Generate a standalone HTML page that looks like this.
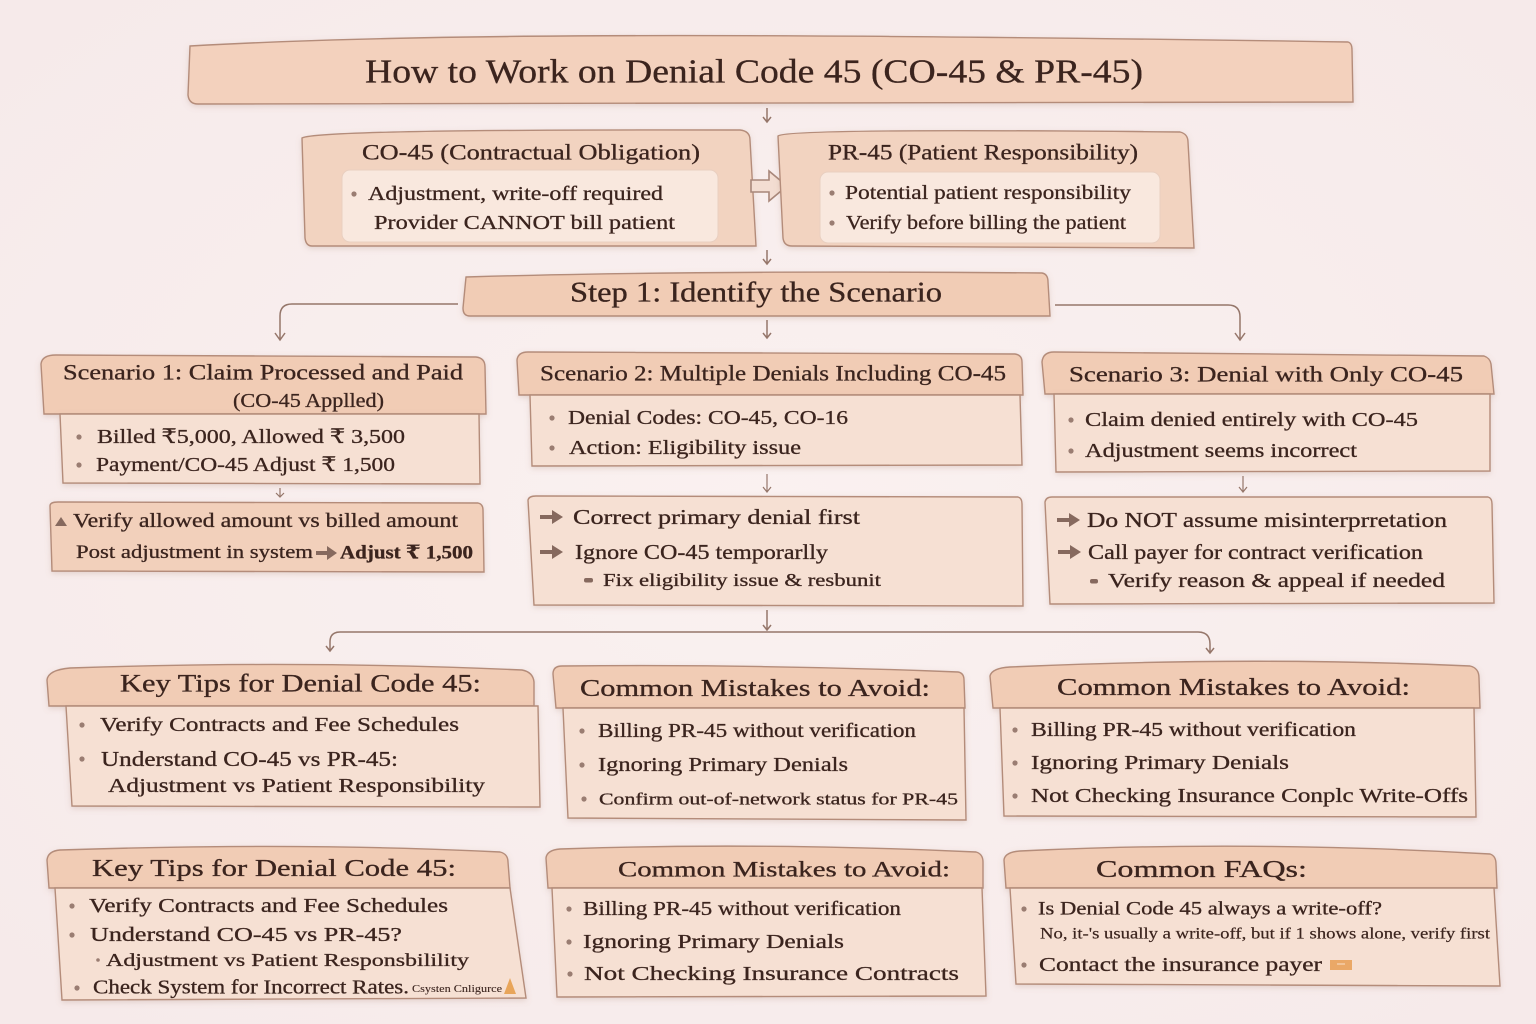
<!DOCTYPE html>
<html>
<head>
<meta charset="utf-8">
<style>
  html,body{margin:0;padding:0;background:#f8eeee;}
  svg{display:block;}
  .t{font-family:"Liberation Serif","DejaVu Serif",serif;fill:#3b241e;stroke:#3b241e;stroke-width:0.3;dominant-baseline:central;}
  .hd{fill:#f1ccb5;stroke:#b48c7a;stroke-width:1.4;}
  .bd{fill:#f6e0d3;stroke:#b48c7a;stroke-width:1.4;}
  .pn{fill:#f9e8de;stroke:#e9cfc0;stroke-width:1;}
  .ln{fill:none;stroke:#95766a;stroke-width:1.5;}
  .bu{fill:#9a7d72;}
  .ar{fill:#86695e;}
</style>
</head>
<body>
<svg width="1536" height="1024" viewBox="0 0 1536 1024" xmlns="http://www.w3.org/2000/svg">
<defs>
  <filter id="sh" x="-5%" y="-10%" width="110%" height="130%">
    <feDropShadow dx="0" dy="2" stdDeviation="3" flood-color="#a8806e" flood-opacity="0.25"/>
  </filter>
  <radialGradient id="bg" cx="50%" cy="50%" r="70%">
    <stop offset="0" stop-color="#faf1f0"/>
    <stop offset="1" stop-color="#f6eaea"/>
  </radialGradient>
</defs>
<rect x="0" y="0" width="1536" height="1024" fill="url(#bg)"/>

<!-- Title -->
<path class="hd" filter="url(#sh)" d="M190,46 C400,34 700,32 1348,42 Q1352,43 1352,50 L1353,102 L198,104 Q189,104 188,95 Z" style="fill:#f3d1bd"/>
<text class="t" x="365" y="72" font-size="34" textLength="778" lengthAdjust="spacingAndGlyphs">How to Work on Denial Code 45 (CO-45 &amp; PR-45)</text>

<!-- arrow 1 -->
<path class="ln" d="M767,108 L767,122 M763,117 L767,122 L771,117"/>

<!-- CO-45 box -->
<path class="hd" filter="url(#sh)" d="M302,138 Q320,129 740,130 Q750,131 750,140 L756,246 L312,246 Q306,246 305,238 Z" style="fill:#f2d3c0"/>
<text class="t" x="362" y="152" font-size="22" textLength="338" lengthAdjust="spacingAndGlyphs">CO-45 (Contractual Obligation)</text>
<rect class="pn" x="342" y="170" width="376" height="72" rx="8"/>
<circle class="bu" cx="354" cy="194" r="2.6"/>
<text class="t" x="368" y="194" font-size="20.5" textLength="295" lengthAdjust="spacingAndGlyphs">Adjustment, write-off required</text>
<text class="t" x="374" y="223" font-size="20.5" textLength="301" lengthAdjust="spacingAndGlyphs">Provider CANNOT bill patient</text>

<!-- hollow arrow -->
<polygon points="751,180 769,180 769,171 787,186 769,201 769,192 751,192" fill="#f3ddd2" stroke="#a8877a" stroke-width="1.6"/>

<!-- PR-45 box -->
<path class="hd" filter="url(#sh)" d="M778,136 Q786,128 1180,132 Q1188,134 1188,142 L1194,248 L792,246 Q784,246 783,238 Z" style="fill:#f2d3c0"/>
<text class="t" x="828" y="152" font-size="22" textLength="310" lengthAdjust="spacingAndGlyphs">PR-45 (Patient Responsibility)</text>
<rect class="pn" x="820" y="172" width="340" height="71" rx="8"/>
<circle class="bu" cx="832" cy="193" r="2.6"/>
<text class="t" x="845" y="193" font-size="20.5" textLength="286" lengthAdjust="spacingAndGlyphs">Potential patient responsibility</text>
<circle class="bu" cx="832" cy="223" r="2.6"/>
<text class="t" x="846" y="223" font-size="20.5" textLength="280" lengthAdjust="spacingAndGlyphs">Verify before billing the patient</text>

<!-- arrow 2 -->
<path class="ln" d="M767,250 L767,264 M763,259 L767,264 L771,259"/>

<!-- Step 1 -->
<path class="hd" filter="url(#sh)" d="M466,277 Q700,270 1042,273 Q1048,274 1048,282 L1050,316 L470,316 Q463,316 463,308 Z"/>
<text class="t" x="570" y="293" font-size="28" textLength="372" lengthAdjust="spacingAndGlyphs">Step 1: Identify the Scenario</text>

<!-- connectors from step1 -->
<path class="ln" d="M458,304 L292,304 Q280,304 280,316 L280,339 M275,333 L280,340 L285,333"/>
<path class="ln" d="M767,320 L767,338 M763,333 L767,338 L771,333"/>
<path class="ln" d="M1055,305 L1228,305 Q1240,305 1240,317 L1240,339 M1235,333 L1240,340 L1245,333"/>

<!-- Scenario 1 -->
<path class="hd" filter="url(#sh)" d="M41,364 Q42,355 56,355 L476,357 Q485,358 485,367 L486,414 L44,414 Z"/>
<text class="t" x="63" y="372" font-size="22" textLength="400" lengthAdjust="spacingAndGlyphs">Scenario 1: Claim Processed and Paid</text>
<text class="t" x="233" y="401" font-size="20" textLength="151" lengthAdjust="spacingAndGlyphs">(CO-45 Applled)</text>
<path class="bd" filter="url(#sh)" d="M60,414 L479,414 L480,484 L63,483 Z"/>
<circle class="bu" cx="79" cy="437" r="2.6"/>
<text class="t" x="97" y="437" font-size="20" textLength="308" lengthAdjust="spacingAndGlyphs">Billed ₹5,000, Allowed ₹ 3,500</text>
<circle class="bu" cx="79" cy="465" r="2.6"/>
<text class="t" x="96" y="465" font-size="20" textLength="299" lengthAdjust="spacingAndGlyphs">Payment/CO-45 Adjust ₹ 1,500</text>
<path class="ln" d="M280,488 L280,497 M276,493 L280,497 L284,493" style="stroke-width:1.2"/>
<path class="hd" filter="url(#sh)" d="M50,506 Q50,502 58,502 L478,503 Q483,504 483,510 L484,572 L52,571 Z" style="fill:#f2d0bb"/>
<polygon points="55,526 61,517 67,526" class="ar"/>
<text class="t" x="73" y="521" font-size="20" textLength="385" lengthAdjust="spacingAndGlyphs">Verify allowed amount vs billed amount</text>
<text class="t" x="76" y="553" font-size="18.5" textLength="237" lengthAdjust="spacingAndGlyphs">Post adjustment in system</text>
<path class="ar" d="M316,551 L327,551 L327,546 L337,553 L327,560 L327,555 L316,555 Z"/>
<text class="t" x="340" y="553" font-size="19" font-weight="bold" textLength="133" lengthAdjust="spacingAndGlyphs">Adjust ₹ 1,500</text>

<!-- Scenario 2 -->
<path class="hd" filter="url(#sh)" d="M517,360 Q518,352 528,352 L1015,354 Q1022,355 1022,362 L1023,395 L519,395 Z"/>
<text class="t" x="540" y="373" font-size="22" textLength="466" lengthAdjust="spacingAndGlyphs">Scenario 2: Multiple Denials Including CO-45</text>
<path class="bd" filter="url(#sh)" d="M530,395 L1020,395 L1022,465 L532,466 Z"/>
<circle class="bu" cx="552" cy="418" r="2.6"/>
<text class="t" x="568" y="418" font-size="20" textLength="280" lengthAdjust="spacingAndGlyphs">Denial Codes: CO-45, CO-16</text>
<circle class="bu" cx="552" cy="448" r="2.6"/>
<text class="t" x="569" y="448" font-size="20" textLength="232" lengthAdjust="spacingAndGlyphs">Action: Eligibility issue</text>
<path class="ln" d="M767,474 L767,492 M763,487 L767,492 L771,487" style="stroke-width:1.2"/>
<path class="bd" filter="url(#sh)" d="M528,500 Q529,496 536,496 L1018,497 Q1022,498 1022,504 L1023,606 L534,605 Z"/>
<path class="ar" d="M540,515 L552,515 L552,510 L563,517 L552,524 L552,519 L540,519 Z"/>
<text class="t" x="573" y="517" font-size="21" textLength="287" lengthAdjust="spacingAndGlyphs">Correct primary denial first</text>
<path class="ar" d="M540,550 L552,550 L552,545 L563,552 L552,559 L552,554 L540,554 Z"/>
<text class="t" x="575" y="552" font-size="21" textLength="253" lengthAdjust="spacingAndGlyphs">Ignore CO-45 temporarlly</text>
<rect class="ar" x="584" y="578" width="9" height="4.5" rx="2"/>
<text class="t" x="603" y="580" font-size="18" textLength="278" lengthAdjust="spacingAndGlyphs">Fix eligibility issue &amp; resbunit</text>

<!-- Scenario 3 -->
<path class="hd" filter="url(#sh)" d="M1042,362 Q1043,352 1054,352 L1484,356 Q1490,358 1491,364 L1494,394 L1045,394 Z"/>
<text class="t" x="1069" y="374" font-size="22" textLength="394" lengthAdjust="spacingAndGlyphs">Scenario 3: Denial with Only CO-45</text>
<path class="bd" filter="url(#sh)" d="M1054,394 L1490,394 L1490,471 L1056,472 Z"/>
<circle class="bu" cx="1071" cy="420" r="2.6"/>
<text class="t" x="1085" y="420" font-size="20.5" textLength="333" lengthAdjust="spacingAndGlyphs">Claim denied entirely with CO-45</text>
<circle class="bu" cx="1071" cy="451" r="2.6"/>
<text class="t" x="1085" y="451" font-size="20.5" textLength="272" lengthAdjust="spacingAndGlyphs">Adjustment seems incorrect</text>
<path class="ln" d="M1243,476 L1243,492 M1239,487 L1243,492 L1247,487" style="stroke-width:1.2"/>
<path class="bd" filter="url(#sh)" d="M1045,502 Q1046,497 1052,497 L1488,497 Q1492,498 1492,504 L1494,603 L1050,604 Z"/>
<path class="ar" d="M1057,518 L1069,518 L1069,513 L1080,520 L1069,527 L1069,522 L1057,522 Z"/>
<text class="t" x="1087" y="520" font-size="21" textLength="360" lengthAdjust="spacingAndGlyphs">Do NOT assume misinterprretation</text>
<path class="ar" d="M1058,550 L1070,550 L1070,545 L1081,552 L1070,559 L1070,554 L1058,554 Z"/>
<text class="t" x="1088" y="552" font-size="21" textLength="335" lengthAdjust="spacingAndGlyphs">Call payer for contract verification</text>
<rect class="ar" x="1090" y="579" width="8" height="4.5" rx="2"/>
<text class="t" x="1108" y="581" font-size="20.5" textLength="337" lengthAdjust="spacingAndGlyphs">Verify reason &amp; appeal if needed</text>

<!-- bottom connector -->
<path class="ln" d="M767,610 L767,630 M763,625 L767,630 L771,625"/>
<path class="ln" d="M1198,632 L340,632 Q330,632 330,642 L330,651 M326,646 L330,651 L334,646"/>
<path class="ln" d="M1198,632 Q1210,632 1210,644 L1210,653 M1206,648 L1210,653 L1214,648"/>

<!-- Key Tips 1 -->
<path class="hd" filter="url(#sh)" d="M47,680 Q48,670 70,668 Q300,660 522,670 Q533,672 534,682 L534,706 L49,706 Z"/>
<text class="t" x="120" y="684" font-size="25" textLength="361" lengthAdjust="spacingAndGlyphs">Key Tips for Denial Code 45:</text>
<path class="bd" filter="url(#sh)" d="M66,706 L538,706 L540,807 L72,806 Z"/>
<circle class="bu" cx="82" cy="725" r="2.6"/>
<text class="t" x="100" y="725" font-size="20" textLength="359" lengthAdjust="spacingAndGlyphs">Verify Contracts and Fee Schedules</text>
<circle class="bu" cx="82" cy="759" r="2.6"/>
<text class="t" x="101" y="759" font-size="21" textLength="297" lengthAdjust="spacingAndGlyphs">Understand CO-45 vs PR-45:</text>
<text class="t" x="108" y="786" font-size="20" textLength="377" lengthAdjust="spacingAndGlyphs">Adjustment vs Patient Responsibility</text>

<!-- Common Mistakes 1 -->
<path class="hd" filter="url(#sh)" d="M553,674 Q553,666 562,666 Q760,664 958,672 Q964,673 964,680 L965,708 L556,708 Z"/>
<text class="t" x="580" y="689" font-size="24" textLength="350" lengthAdjust="spacingAndGlyphs">Common Mistakes to Avoid:</text>
<path class="bd" filter="url(#sh)" d="M563,708 L964,708 L966,820 L568,818 Z"/>
<circle class="bu" cx="582" cy="731" r="2.6"/>
<text class="t" x="598" y="731" font-size="20" textLength="318" lengthAdjust="spacingAndGlyphs">Billing PR-45 without verification</text>
<circle class="bu" cx="582" cy="765" r="2.6"/>
<text class="t" x="598" y="765" font-size="20" textLength="250" lengthAdjust="spacingAndGlyphs">Ignoring Primary Denials</text>
<circle class="bu" cx="584" cy="799" r="2.6"/>
<text class="t" x="599" y="799" font-size="17" textLength="359" lengthAdjust="spacingAndGlyphs">Confirm out-of-network status for PR-45</text>

<!-- Common Mistakes 2 -->
<path class="hd" filter="url(#sh)" d="M990,676 Q992,668 1010,667 Q1250,656 1470,666 Q1479,668 1479,678 L1480,708 L993,708 Z"/>
<text class="t" x="1057" y="688" font-size="24" textLength="353" lengthAdjust="spacingAndGlyphs">Common Mistakes to Avoid:</text>
<path class="bd" filter="url(#sh)" d="M1000,708 L1474,708 L1476,817 L1004,816 Z"/>
<circle class="bu" cx="1015" cy="730" r="2.6"/>
<text class="t" x="1031" y="730" font-size="20" textLength="325" lengthAdjust="spacingAndGlyphs">Billing PR-45 without verification</text>
<circle class="bu" cx="1015" cy="763" r="2.6"/>
<text class="t" x="1031" y="763" font-size="20" textLength="258" lengthAdjust="spacingAndGlyphs">Ignoring Primary Denials</text>
<circle class="bu" cx="1015" cy="796" r="2.6"/>
<text class="t" x="1031" y="796" font-size="20" textLength="437" lengthAdjust="spacingAndGlyphs">Not Checking Insurance Conplc  Write-Offs</text>

<!-- Key Tips 2 -->
<path class="hd" filter="url(#sh)" d="M47,860 Q48,851 60,850 Q300,842 500,852 Q508,854 508,862 L510,888 L49,888 Z"/>
<text class="t" x="92" y="869" font-size="24" textLength="364" lengthAdjust="spacingAndGlyphs">Key Tips for Denial Code 45:</text>
<path class="bd" filter="url(#sh)" d="M55,888 L510,888 L526,998 L62,1000 Z"/>
<circle class="bu" cx="72" cy="906" r="2.6"/>
<text class="t" x="89" y="906" font-size="20" textLength="359" lengthAdjust="spacingAndGlyphs">Verify Contracts and Fee Schedules</text>
<circle class="bu" cx="72" cy="935" r="2.6"/>
<text class="t" x="90" y="935" font-size="20.5" textLength="312" lengthAdjust="spacingAndGlyphs">Understand CO-45 vs PR-45?</text>
<circle class="bu" cx="98" cy="960" r="1.8"/>
<text class="t" x="106" y="960" font-size="18" textLength="363" lengthAdjust="spacingAndGlyphs">Adjustment vs Patient Responsbilility</text>
<circle class="bu" cx="77" cy="988" r="2.6"/>
<text class="t" x="93" y="988" font-size="19.5" textLength="316" lengthAdjust="spacingAndGlyphs">Check System for Incorrect Rates.</text>
<text class="t" x="412" y="989" font-size="11" textLength="90" lengthAdjust="spacingAndGlyphs" style="stroke-width:0.1">Csysten Cnligurce</text>
<polygon points="504,994 510,978 516,994" fill="#e8a55a"/>

<!-- Common Mistakes 3 -->
<path class="hd" filter="url(#sh)" d="M546,858 Q547,850 560,849 Q760,842 976,852 Q983,854 983,862 L983,888 L548,888 Z"/>
<text class="t" x="618" y="869" font-size="22" textLength="332" lengthAdjust="spacingAndGlyphs">Common Mistakes to Avoid:</text>
<path class="bd" filter="url(#sh)" d="M552,888 L982,888 L986,996 L557,997 Z"/>
<circle class="bu" cx="569" cy="909" r="2.6"/>
<text class="t" x="583" y="909" font-size="20" textLength="318" lengthAdjust="spacingAndGlyphs">Billing PR-45 without verification</text>
<circle class="bu" cx="569" cy="942" r="2.6"/>
<text class="t" x="583" y="942" font-size="20" textLength="261" lengthAdjust="spacingAndGlyphs">Ignoring Primary Denials</text>
<circle class="bu" cx="570" cy="974" r="2.6"/>
<text class="t" x="584" y="974" font-size="20.5" textLength="375" lengthAdjust="spacingAndGlyphs">Not Checking Insurance  Contracts</text>

<!-- Common FAQs -->
<path class="hd" filter="url(#sh)" d="M1004,860 Q1005,852 1020,851 Q1250,840 1490,854 Q1496,856 1496,864 L1497,888 L1006,888 Z"/>
<text class="t" x="1096" y="870" font-size="24" textLength="211" lengthAdjust="spacingAndGlyphs">Common FAQs:</text>
<path class="bd" filter="url(#sh)" d="M1010,888 L1494,888 L1500,986 L1016,984 Z"/>
<circle class="bu" cx="1024" cy="909" r="2.6"/>
<text class="t" x="1038" y="909" font-size="19" textLength="344" lengthAdjust="spacingAndGlyphs">Is Denial Code 45 always a write-off?</text>
<text class="t" x="1040" y="934" font-size="16" textLength="450" lengthAdjust="spacingAndGlyphs" style="stroke-width:0.2">No, it-'s usually a write-off, but if 1 shows alone, verify first</text>
<circle class="bu" cx="1024" cy="965" r="2.6"/>
<text class="t" x="1039" y="965" font-size="20" textLength="283" lengthAdjust="spacingAndGlyphs">Contact the insurance payer</text>
<rect x="1330" y="960" width="22" height="10" fill="#eaa867"/>
<path d="M1337,964 L1345,964" stroke="#fbe0c8" stroke-width="1"/>
</svg>
</body>
</html>
